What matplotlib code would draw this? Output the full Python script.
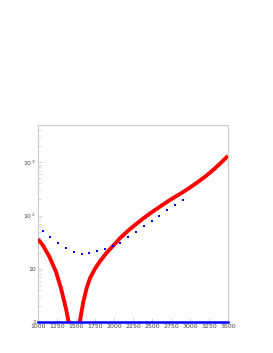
import matplotlib
matplotlib.use("Agg")
import matplotlib.pyplot as plt
from matplotlib.ticker import FixedLocator, LogLocator, NullFormatter

# Blue dotted series
blue_x = [1062, 1164, 1267, 1369, 1471, 1574, 1676, 1778, 1881, 1983,
          2085, 2188, 2290, 2392, 2495, 2597, 2699, 2802, 2904]
blue_y = [52, 40, 31, 24.6, 21, 19.2, 19.5, 21.6, 23.9, 26.4,
          31, 39, 49, 63, 80, 100, 127, 160, 199]

# Red curve
red_x = [1000, 1062, 1149, 1237, 1303, 1368, 1404, 1440, 1480,
         1515, 1550, 1597, 1640, 1684, 1750, 1816, 1904, 1983,
         2079, 2180, 2289, 2390, 2496, 2615, 2737, 2820, 2899,
         3000, 3100, 3200, 3307, 3400, 3500]
red_y = [36, 28, 17, 8.8, 4.3, 1.8, 1.0, 0.5, 0.05,
         0.5, 1.0, 2.4, 4.3, 6.6, 10, 13.8, 20, 26.4,
         37.4, 51, 68.6, 89, 115, 150, 196, 231, 270,
         335, 422, 537, 720, 955, 1318]

# Blue baseline
base_x = [1000, 3500]
base_y = [1, 1]

xticks = [1000, 1250, 1500, 1750, 2000, 2250, 2500, 2750, 3000, 3250, 3500]
yticks = [1, 10, 100, 1000]
ytick_labels = ["1", "10", r"$10^{\,2}$", r"$10^{\,3}$"]

fig = plt.figure(figsize=(2.73, 3.53), dpi=100)
ax = fig.add_axes([0.139, 0.0878, 0.696, 0.558])

ax.plot(red_x, red_y, color="#ff0000", lw=2.8, solid_capstyle="butt",
        solid_joinstyle="round", zorder=3)
ax.plot(blue_x, blue_y, linestyle="none", marker="s", markersize=2.0,
        color="#0000ff", markeredgewidth=0, zorder=4)
ax.plot(base_x, base_y, color="#0000ff", lw=1.8, zorder=5, clip_on=False)

ax.set_yscale("log")
ax.set_xlim(1000, 3500)
ax.set_ylim(1, 5000)

ax.xaxis.set_major_locator(FixedLocator(xticks))
ax.set_xticklabels([str(t) for t in xticks])
ax.yaxis.set_major_locator(FixedLocator(yticks))
ax.set_yticklabels(ytick_labels)
ax.yaxis.set_minor_locator(LogLocator(base=10, subs=range(2, 10)))
ax.yaxis.set_minor_formatter(NullFormatter())

ax.tick_params(axis="both", which="both", direction="in", colors="#cccccc",
               labelcolor="#444444", labelsize=4.5, pad=1.5)
ax.tick_params(axis="both", which="major", length=3, width=0.6)
ax.tick_params(axis="y", which="minor", length=2, width=0.5)
ax.tick_params(top=False, right=False)

for s in ax.spines.values():
    s.set_color("#cccccc")
    s.set_linewidth(0.8)

fig.savefig("out.png", dpi=100)
